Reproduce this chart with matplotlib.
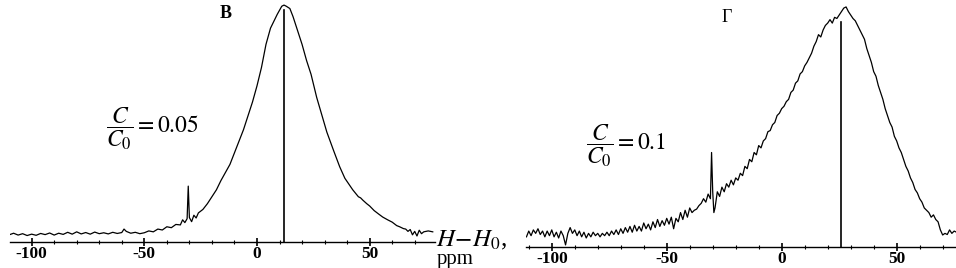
import numpy as np
import matplotlib
matplotlib.use('Agg')
import matplotlib.pyplot as plt
from matplotlib.ticker import MultipleLocator

plt.rcParams['font.family'] = ['Liberation Serif', 'DejaVu Serif']
plt.rcParams['mathtext.fontset'] = 'stix'
plt.rcParams['axes.unicode_minus'] = False

# panel B : C/C0 = 0.05  (ppm, intensity)
x_b = [-110, -108, -106, -104, -102, -100, -98, -96, -94, -92, -90, -88, -86, -84, -82, -80,
       -78, -76, -74, -72, -70, -68, -66, -64, -62, -60, -59, -58, -56, -54, -52, -50,
       -48, -46, -44, -42, -40, -38, -36, -34, -33, -32, -31, -30.5, -30, -29, -28, -27,
       -26, -24, -22, -20, -18, -16, -14, -12, -10, -8, -6, -4, -2, 0, 2, 4,
       6, 7, 9, 11, 12, 13, 14.6, 16, 18, 20, 22, 24, 26.5, 28, 31, 34,
       36.7, 39, 42.5, 45, 46, 47, 48.7, 50, 52, 54, 55.8, 58, 60, 62, 63.3, 65,
       66, 67, 68, 69, 70, 71, 72, 73, 74, 76, 78]
y_b = [0.005, 0.012, 0.004, 0.010, 0.002, 0.008, 0.003, 0.011, 0.006, 0.013, 0.004, 0.012, 0.007, 0.016, 0.008, 0.018,
       0.009, 0.015, 0.008, 0.017, 0.010, 0.014, 0.009, 0.016, 0.011, 0.015, 0.030, 0.020, 0.012, 0.016, 0.010, 0.014,
       0.022, 0.018, 0.030, 0.026, 0.040, 0.036, 0.050, 0.048, 0.070, 0.058, 0.075, 0.216, 0.080, 0.062, 0.090, 0.078,
       0.100, 0.115, 0.140, 0.170, 0.200, 0.240, 0.275, 0.310, 0.360, 0.410, 0.460, 0.520, 0.580, 0.650, 0.730, 0.830,
       0.900, 0.920, 0.960, 0.995, 1.000, 0.995, 0.985, 0.950, 0.890, 0.830, 0.760, 0.700, 0.600, 0.550, 0.450, 0.370,
       0.300, 0.250, 0.200, 0.170, 0.165, 0.155, 0.140, 0.130, 0.110, 0.095, 0.082, 0.070, 0.060, 0.045, 0.040, 0.032,
       0.030, 0.020, 0.028, 0.005, 0.020, 0.000, 0.025, 0.010, 0.018, 0.022, 0.018]

# panel Г : C/C0 = 0.1
x_g = [-111, -110, -109, -108, -107, -106, -105, -104, -103, -102, -101, -100, -99, -98, -97, -96,
       -95, -94, -93, -92, -91, -90, -89, -88, -87, -86, -85, -84, -83, -82, -81, -80,
       -79, -78, -77, -76, -75, -74, -73, -72, -71, -70, -69, -68, -67, -66, -65, -64,
       -63, -62, -61, -60, -59, -58, -57, -56, -55, -54, -53, -52, -51, -50, -49, -48,
       -47, -46, -45, -44, -43, -42, -41, -40, -39, -38, -37, -36, -35, -34, -33, -32,
       -31, -30.5, -30, -29.5, -29, -28, -27, -26, -25, -24, -23, -22, -21, -20, -19, -18,
       -17, -16, -15, -14, -13, -12, -11, -10, -9, -8, -7, -6, -5, -4, -3, -2,
       -1, 0, 1, 2, 3, 4, 5, 6, 7, 8, 9, 10, 11, 12, 13, 14,
       15, 16, 17, 18, 19, 20, 21, 22, 23, 24, 25, 26, 27, 28, 29, 30,
       31, 32, 33, 34, 35, 36, 37, 38, 39, 40, 41, 42, 43, 44, 45, 46,
       47, 48, 49, 50, 51, 52, 53, 54, 55, 56, 57, 58, 59, 60, 61, 62,
       63, 64, 65, 66, 67, 68, 69, 70, 71, 72, 73, 74, 75, 76]
y_g = [0.005, 0.030, 0.010, 0.035, 0.020, 0.040, 0.015, 0.030, 0.005, 0.030, 0.010, 0.035, 0.005, 0.025, 0.000, 0.030,
       0.010, -0.030, 0.020, 0.045, 0.020, 0.035, 0.010, 0.030, 0.005, 0.025, 0.000, 0.020, 0.005, 0.025, 0.010, 0.020,
       0.005, 0.020, 0.010, 0.025, 0.010, 0.030, 0.015, 0.035, 0.015, 0.040, 0.020, 0.045, 0.025, 0.050, 0.025, 0.055,
       0.030, 0.050, 0.030, 0.065, 0.040, 0.060, 0.035, 0.070, 0.045, 0.080, 0.050, 0.075, 0.055, 0.085, 0.060, 0.090,
       0.040, 0.085, 0.070, 0.110, 0.080, 0.120, 0.090, 0.130, 0.110, 0.120, 0.125, 0.140, 0.150, 0.170, 0.155, 0.190,
       0.170, 0.370, 0.200, 0.110, 0.130, 0.200, 0.180, 0.220, 0.200, 0.235, 0.220, 0.250, 0.230, 0.260, 0.250, 0.280,
       0.270, 0.310, 0.300, 0.340, 0.330, 0.370, 0.360, 0.400, 0.390, 0.420, 0.430, 0.460, 0.465, 0.490, 0.500, 0.530,
       0.540, 0.560, 0.570, 0.590, 0.600, 0.630, 0.640, 0.670, 0.680, 0.710, 0.720, 0.745, 0.760, 0.780, 0.800, 0.830,
       0.850, 0.880, 0.870, 0.900, 0.920, 0.930, 0.945, 0.930, 0.955, 0.950, 0.965, 0.980, 0.995, 1.000, 0.980, 0.965,
       0.950, 0.940, 0.920, 0.900, 0.880, 0.860, 0.820, 0.790, 0.760, 0.720, 0.700, 0.660, 0.630, 0.600, 0.560, 0.530,
       0.500, 0.480, 0.440, 0.420, 0.390, 0.370, 0.340, 0.310, 0.290, 0.260, 0.240, 0.210, 0.195, 0.170, 0.155, 0.130,
       0.120, 0.110, 0.090, 0.100, 0.080, 0.070, 0.035, 0.013, 0.020, 0.015, 0.035, 0.020, 0.030, 0.025]

line_b = 12      # position of the vertical marker, ppm
line_g = 26
top_b = 0.98
top_g = 0.935

W, H = 956, 268
fig = plt.figure(figsize=(W / 100, H / 100), dpi=100)

def ax_rect(x0, x1, y_axis):
    # pixel box -> figure fraction (top of axes at image top)
    return [x0 / W, (H - y_axis) / H, (x1 - x0) / W, y_axis / H]

def style(ax):
    for s in ('top', 'right', 'left'):
        ax.spines[s].set_visible(False)
    ax.spines['bottom'].set_linewidth(1.0)
    ax.set_yticks([])
    ax.xaxis.set_major_locator(MultipleLocator(50))
    ax.xaxis.set_minor_locator(MultipleLocator(10))
    ax.tick_params(axis='x', which='major', direction='inout', length=6, width=1.2,
                   labelsize=12.5, pad=0)
    ax.tick_params(axis='x', which='minor', direction='inout', length=2.5, width=0.8)
    for lab in ax.get_xticklabels():
        lab.set_fontweight('bold')
    ax.patch.set_alpha(0)

ax1 = fig.add_axes(ax_rect(10, 435, 242))
ax1.plot(x_b, y_b, color='black', lw=0.9)
ax1.plot([line_b, line_b], [-0.03, top_b], color='black', lw=1.2)
ax1.set_xlim(-109.6, 79.0)
ax1.set_ylim(-0.026, 1.022)
style(ax1)

ax2 = fig.add_axes(ax_rect(526, 956, 247))
ax2.plot(x_g, y_g, color='black', lw=0.9)
ax2.plot([line_g, line_g], [-0.04, top_g], color='black', lw=1.2)
ax2.set_xlim(-111.2, 75.8)
ax2.set_ylim(-0.039, 1.03)
style(ax2)

def ftext(x, y, s, **kw):
    fig.text(x / W, 1 - y / H, s, **kw)

ftext(226, 13, 'В', ha='center', va='center', fontsize=13, fontweight='bold')
ftext(727, 17, 'Г', ha='center', va='center', fontsize=13)

ftext(106, 129, r'$\dfrac{C}{C_0}=0.05$', ha='left', va='center', fontsize=17)
ftext(586, 146, r'$\dfrac{C}{C_0}=0.1$', ha='left', va='center', fontsize=17)

ftext(436, 246, r'$H\!-\!H_0$,', ha='left', va='baseline', fontsize=18)
ftext(437, 264, 'ppm', ha='left', va='baseline', fontsize=15)

fig.savefig('out.png', dpi=100)
